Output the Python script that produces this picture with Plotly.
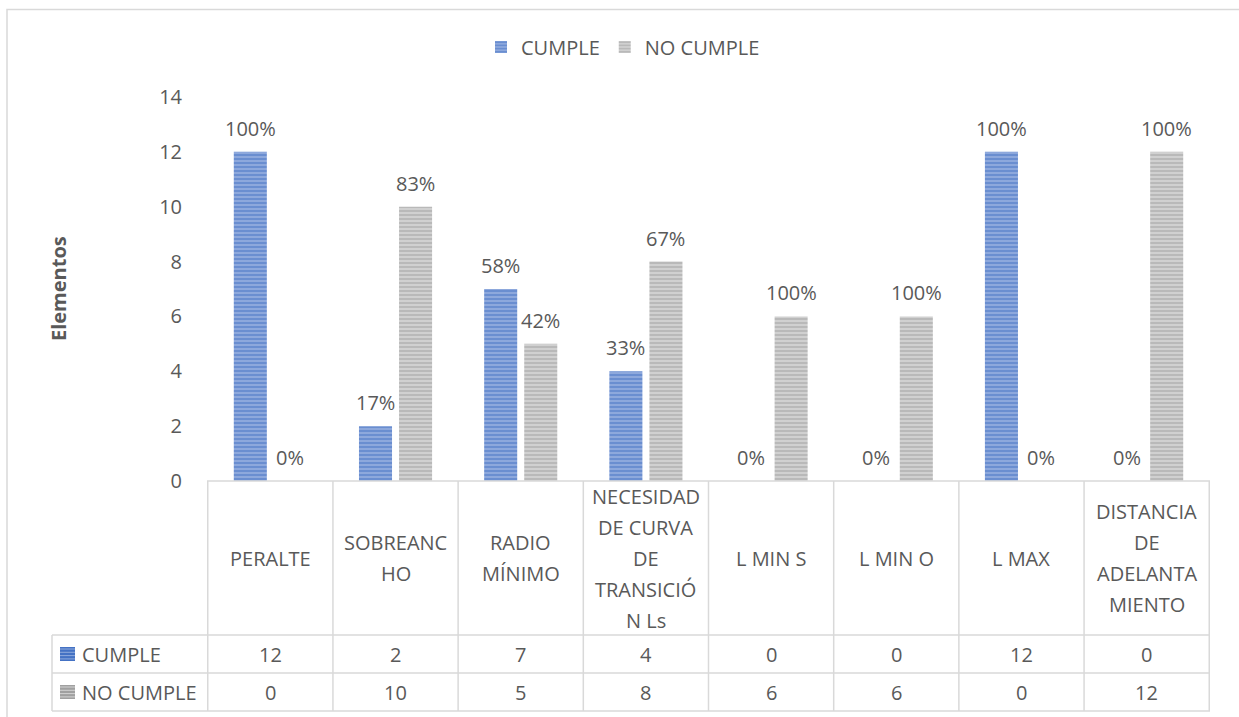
import plotly.graph_objects as go

categories = ["PERALTE", "SOBREANCHO", "RADIO MÍNIMO", "NECESIDAD DE CURVA DE TRANSICIÓN Ls",
              "L MIN S", "L MIN O", "L MAX", "DISTANCIA DE ADELANTAMIENTO"]
header_lines = [["PERALTE"], ["SOBREANC", "HO"], ["RADIO", "MÍNIMO"],
                ["NECESIDAD", "DE CURVA", "DE", "TRANSICIÓ", "N Ls"],
                ["L MIN S"], ["L MIN O"], ["L MAX"],
                ["DISTANCIA", "DE", "ADELANTA", "MIENTO"]]
cumple = [12, 2, 7, 4, 0, 0, 12, 0]
no_cumple = [0, 10, 5, 8, 6, 6, 0, 12]
series_names = ["CUMPLE", "NO CUMPLE"]
y_ticks = [0, 2, 4, 6, 8, 10, 12, 14]

FONT = "Open Sans"
TXT = "#595959"
GRID = "#D9D9D9"
W, H = 1239, 717
L, R, T, B = 207, 29, 97, 236
PW, PH = W - L - R, H - T - B

def px_x(p):
    return (p - L) / PW

def px_y(p):
    return (H - B - p) / PH

blue_fg, blue_bg = "#4472C4", "#90ABDD"
gray_fg, gray_bg = "#A0A0A0", "#D3D3D3"

fig = go.Figure()
fig.add_trace(go.Bar(
    x=categories, y=cumple, name=series_names[0],
    marker=dict(color=blue_bg, line=dict(width=0),
                pattern=dict(shape="-", fgcolor=blue_fg, bgcolor=blue_bg, size=4, solidity=0.55)),
))
fig.add_trace(go.Bar(
    x=categories, y=no_cumple, name=series_names[1],
    marker=dict(color=gray_bg, line=dict(width=0),
                pattern=dict(shape="-", fgcolor=gray_fg, bgcolor=gray_bg, size=4, solidity=0.55)),
))

annotations = []
# percentage labels
for vals, others, shift in [(cumple, no_cumple, -20), (no_cumple, cumple, 20)]:
    for c, v, o in zip(categories, vals, others):
        pct = round(v / (v + o) * 100)
        annotations.append(dict(x=c, y=v, xref="x", yref="y", text=f"{pct}%", showarrow=False,
                                xshift=shift, yshift=8, yanchor="bottom",
                                font=dict(family=FONT, size=20, color=TXT)))

# header labels of data table
LINE_H = 31
for c, lines in zip(categories, header_lines):
    n = len(lines)
    for i, ln in enumerate(lines):
        annotations.append(dict(x=c, y=px_y(558), xref="x", yref="paper", text=ln, showarrow=False,
                                yshift=-(i - (n - 1) / 2) * LINE_H, yanchor="middle",
                                font=dict(family=FONT, size=20, color=TXT)))

# data rows
row_centers = [px_y(654), px_y(692)]
for vals, yc in zip([cumple, no_cumple], row_centers):
    for c, v in zip(categories, vals):
        annotations.append(dict(x=c, y=yc, xref="x", yref="paper", text=str(v), showarrow=False,
                                yanchor="middle", font=dict(family=FONT, size=20, color=TXT)))

# row labels
for name, yc in zip(series_names, row_centers):
    annotations.append(dict(x=px_x(80), y=yc, xref="paper", yref="paper", text=name, showarrow=False,
                            xanchor="left", yanchor="middle",
                            font=dict(family=FONT, size=20, color=TXT)))

# y-axis title
annotations.append(dict(x=px_x(58), y=0.5, xref="paper", yref="paper", text="<b>Elementos</b>",
                        textangle=-90, showarrow=False, xanchor="center", yanchor="middle",
                        font=dict(family=FONT, size=20, color=TXT)))

shapes = []
line = dict(color=GRID, width=1.5)
# outer border
shapes.append(dict(type="rect", xref="paper", yref="paper", x0=px_x(7), x1=px_x(1260),
                   y0=px_y(740), y1=px_y(9.5), line=line, fillcolor="rgba(0,0,0,0)", layer="below"))
# table horizontal lines
shapes.append(dict(type="line", xref="paper", yref="paper", x0=0, x1=1, y0=0, y1=0, line=line))
for yp in [635, 673, 711]:
    shapes.append(dict(type="line", xref="paper", yref="paper", x0=px_x(52), x1=1,
                       y0=px_y(yp), y1=px_y(yp), line=line))
# table vertical lines at category boundaries
for k in range(len(categories) + 1):
    shapes.append(dict(type="line", xref="x", yref="paper", x0=k - 0.5, x1=k - 0.5,
                       y0=0, y1=px_y(711), line=line))
shapes.append(dict(type="line", xref="paper", yref="paper", x0=px_x(52), x1=px_x(52),
                   y0=px_y(635), y1=px_y(711), line=line))
# legend keys in table
for (fg, bg), yc in zip([(blue_fg, blue_bg), (gray_fg, gray_bg)], [654, 692]):
    shapes.append(dict(type="rect", xref="paper", yref="paper", x0=px_x(60), x1=px_x(75),
                       y0=px_y(yc + 7), y1=px_y(yc - 7), line=dict(width=0), fillcolor=fg))
    for s in range(4):
        yy = yc - 5 + s * 3.3
        shapes.append(dict(type="line", xref="paper", yref="paper", x0=px_x(60), x1=px_x(75),
                           y0=px_y(yy), y1=px_y(yy), line=dict(color=bg, width=1)))

fig.update_layout(
    width=W, height=H,
    margin=dict(l=L, r=R, t=T, b=B, pad=0),
    paper_bgcolor="white", plot_bgcolor="white",
    barmode="group", bargap=0.36, bargroupgap=0.175,
    font=dict(family=FONT, size=20, color=TXT),
    showlegend=True,
    legend=dict(orientation="h", x=px_x(481), y=px_y(47), xanchor="left", yanchor="middle",
                font=dict(family=FONT, size=20, color=TXT), bgcolor="rgba(0,0,0,0)",
                itemwidth=30, traceorder="normal"),
    xaxis=dict(type="category", showticklabels=False, showgrid=False, zeroline=False,
               showline=False, ticks=""),
    yaxis=dict(range=[0, 14], tickvals=y_ticks, showgrid=False, zeroline=False, showline=False,
               ticks="", ticklabelstandoff=24, tickfont=dict(family=FONT, size=20, color=TXT)),
    annotations=annotations, shapes=shapes,
)

fig.write_html("out.html")
